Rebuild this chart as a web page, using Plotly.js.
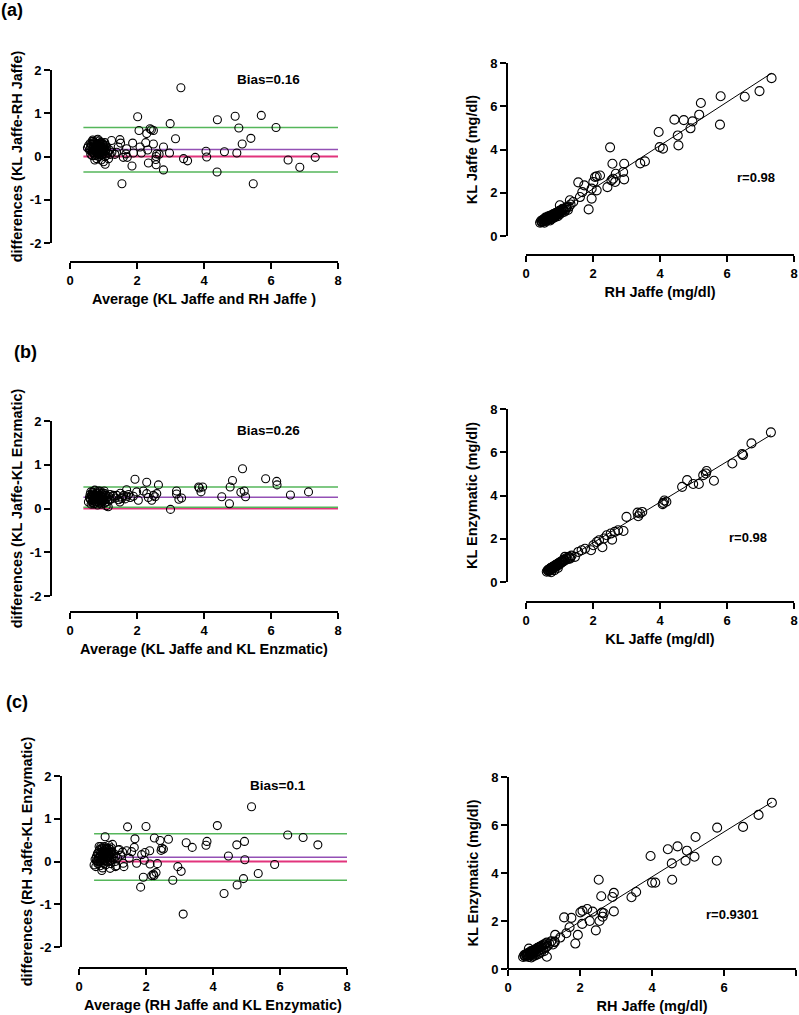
<!DOCTYPE html>
<html><head><meta charset="utf-8">
<script src="https://cdn.plot.ly/plotly-3.0.1.min.js"></script>
<style>html,body{margin:0;padding:0;background:#fff}</style>
</head><body><div id="chart" style="width:799px;height:1015px"></div>
<script>
// ---------- DATA ----------
// Panel (a) Bland-Altman: KL Jaffe vs RH Jaffe
const baA_avg = [0.52,0.55,0.58,0.60,0.62,0.63,0.65,0.66,0.68,0.70,0.70,0.72,0.73,0.75,0.75,0.77,0.78,0.79,0.80,0.81,0.82,0.83,0.84,0.85,0.86,0.87,0.88,0.89,0.90,0.91,0.92,0.93,0.94,0.95,0.96,0.97,0.98,0.99,1.00,1.01,1.02,1.03,1.04,1.05,1.06,1.08,1.10,1.12,1.15,1.18,1.20,1.25,0.68,0.74,0.88,
 3.31,2.02,4.93,4.40,5.71,2.99,2.06,2.39,2.43,2.49,2.29,5.04,6.15,3.15,5.40,5.14,1.24,1.49,1.51,1.87,2.26,2.49,2.79,2.09,2.32,4.06,4.61,4.98,2.97,1.89,2.13,1.69,1.67,1.59,1.71,2.59,2.66,2.57,2.56,3.39,3.51,4.08,7.32,6.51,6.86,2.34,2.57,2.79,1.85,4.39,1.55,5.47,1.39,1.34,1.44];
const baA_diff = [0.20,0.25,0.15,0.30,0.05,0.22,0.12,0.35,0.18,0.27,0.08,0.14,0.32,0.02,0.22,0.10,0.28,0.17,-0.05,0.25,0.05,0.40,0.15,0.20,0.30,0.00,0.12,0.24,0.08,0.18,0.33,-0.08,0.14,0.22,0.04,0.28,0.10,0.17,-0.12,0.25,0.06,0.19,0.32,-0.18,0.12,0.02,0.22,0.08,-0.05,0.15,0.05,0.10,0.38,-0.08,0.36,
 1.59,0.92,0.93,0.85,0.95,0.76,0.60,0.64,0.62,0.60,0.53,0.66,0.67,0.41,0.42,0.29,0.37,0.39,0.31,0.31,0.32,0.29,0.22,0.22,0.15,0.12,0.11,0.08,0.08,0.08,0.08,0.18,0.06,-0.02,-0.02,0.06,0.05,0.00,-0.07,-0.05,-0.10,-0.01,-0.02,-0.08,-0.25,-0.15,-0.19,-0.31,-0.22,-0.36,-0.63,-0.63,0.10,0.05,0.22];
const baA_avg_dense = [0.60,0.64,0.67,0.69,0.71,0.73,0.76,0.78,0.80,0.82,0.84,0.86,0.88,0.90,0.92,0.94,0.96,0.98,1.00,1.02,1.04,1.06,1.08,0.70,0.80,0.66,0.75,0.85,0.95,0.83];
const baA_diff_dense = [0.18,0.28,0.10,0.22,0.16,0.05,0.30,0.20,0.12,0.30,0.24,0.08,0.18,0.28,0.12,0.03,0.20,0.30,0.14,0.22,0.00,0.26,0.16,0.35,0.38,0.02,0.15,0.05,0.12,0.18];
const baA_limits = [0.67, 0.16, -0.36];   // upper LoA, bias, lower LoA
const baA_span = [0.4, 8];

// Panel (a) correlation: RH Jaffe (x) vs KL Jaffe (y)
const scA_x = [0.42,0.45,0.48,0.50,0.52,0.55,0.57,0.58,0.60,0.62,0.63,0.65,0.66,0.68,0.70,0.71,0.73,0.75,0.76,0.78,0.80,0.81,0.83,0.85,0.86,0.88,0.90,0.92,0.94,0.95,0.97,0.99,1.00,1.02,1.05,1.07,1.10,1.12,1.15,1.18,1.20,1.25,1.28,0.55,0.72,
 7.33,6.97,6.53,5.81,5.79,5.22,5.17,4.97,4.91,4.43,4.71,4.53,4.55,3.96,3.99,4.09,3.41,3.55,2.51,2.58,2.93,2.90,2.93,2.68,2.66,2.55,2.60,2.43,2.06,2.11,2.21,2.01,1.96,2.11,1.96,1.56,1.74,1.68,1.61,1.87,1.31,1.41,1.33,1.21,1.09,1.01];
const scA_y = [0.62,0.70,0.66,0.75,0.68,0.80,0.72,0.85,0.76,0.70,0.82,0.90,0.78,0.86,0.80,0.93,0.85,0.78,0.95,0.88,0.82,1.00,0.92,0.86,1.02,0.95,1.05,0.98,1.10,0.92,1.04,1.15,1.00,1.10,1.20,1.08,1.18,1.25,1.12,1.22,1.30,1.20,1.35,0.62,0.72,
 7.30,6.70,6.44,6.46,5.15,6.15,5.61,5.30,4.98,5.38,5.36,4.65,4.19,4.81,4.11,4.04,3.36,3.45,4.10,3.34,3.34,2.96,2.62,2.88,2.50,2.57,2.65,2.26,2.73,2.76,2.80,2.50,2.19,2.11,1.73,2.48,2.34,2.03,1.80,1.23,1.65,1.57,1.46,1.34,1.26,1.42];
const scA_x_dense = [0.47,0.51,0.54,0.56,0.59,0.61,0.64,0.67,0.69,0.72,0.74,0.77,0.79,0.82,0.84,0.87,0.89,0.93,0.96,1.01];
const scA_y_dense = [0.64,0.70,0.73,0.76,0.78,0.80,0.84,0.82,0.88,0.90,0.92,0.93,0.98,0.97,1.02,1.04,1.06,1.08,1.12,1.16];
const scA_fit = [1.004, 0.17];   // slope, intercept
const scA_r = "r=0.98";

// Panel (b) Bland-Altman: KL Jaffe vs KL Enzymatic
const baB_avg = [0.55,0.58,0.60,0.62,0.63,0.65,0.67,0.68,0.70,0.71,0.72,0.74,0.75,0.77,0.78,0.80,0.81,0.82,0.84,0.85,0.86,0.88,0.89,0.90,0.92,0.93,0.95,0.96,0.98,1.00,1.02,1.03,1.05,1.07,1.08,1.10,1.12,1.15,1.18,1.20,1.25,1.30,1.35,1.40,1.45,1.50,1.55,1.60,1.65,1.70,1.75,1.80,
 1.94,2.29,2.64,1.69,1.99,2.19,1.89,2.04,2.29,2.34,2.44,2.49,2.59,2.54,3.18,3.18,3.25,3.33,3.00,3.84,3.96,3.91,3.86,4.53,4.78,4.85,4.76,5.15,5.10,5.20,5.24,5.84,6.17,6.18,6.58,7.12,1.14,1.49,1.54,1.29];
const baB_diff = [0.15,0.25,0.32,0.20,0.10,0.28,0.38,0.18,0.24,0.33,0.12,0.42,0.22,0.30,0.16,0.26,0.36,0.08,0.20,0.30,0.14,0.24,0.40,0.18,0.28,0.10,0.22,0.34,0.16,0.26,0.40,0.12,0.20,0.30,0.06,0.24,0.16,0.28,0.20,0.32,0.22,0.28,0.24,0.30,0.20,0.35,0.26,0.30,0.22,0.28,0.32,0.25,
 0.67,0.60,0.54,0.43,0.38,0.40,0.28,0.19,0.34,0.25,0.19,0.30,0.34,0.27,0.40,0.33,0.21,0.24,-0.02,0.49,0.49,0.38,0.47,0.27,0.49,0.64,0.11,0.91,0.37,0.40,0.27,0.68,0.62,0.54,0.31,0.38,0.04,0.15,0.23,0.30];
const baB_avg_dense = [0.60,0.64,0.66,0.69,0.71,0.73,0.76,0.78,0.80,0.83,0.85,0.87,0.89,0.91,0.94,0.96,0.98,1.00,1.02,1.05,0.62,0.70,0.74,0.79,0.84,0.88,0.92,0.97,1.04,0.67];
const baB_diff_dense = [0.22,0.30,0.14,0.36,0.20,0.28,0.12,0.34,0.20,0.28,0.16,0.36,0.22,0.30,0.14,0.26,0.36,0.20,0.28,0.14,0.38,0.10,0.22,0.26,0.40,0.12,0.24,0.18,0.34,0.26];
const baB_limits = [0.49, 0.26, 0.03];
const baB_span = [0.4, 8];

// Panel (b) correlation: KL Jaffe (x) vs KL Enzymatic (y)
const scB_x = [0.62,0.65,0.68,0.70,0.72,0.74,0.76,0.78,0.80,0.82,0.84,0.86,0.88,0.90,0.92,0.94,0.96,0.98,1.00,1.02,1.05,1.08,1.10,1.13,1.16,1.20,1.24,1.28,1.32,1.36,0.75,0.85,0.95,
 7.31,6.73,6.45,6.48,6.16,5.61,5.39,5.37,5.29,5.16,4.99,4.81,4.66,4.19,4.10,4.08,4.13,3.40,3.33,3.35,3.47,3.00,2.91,2.75,2.65,2.57,2.28,2.41,2.53,2.33,2.18,2.11,1.94,2.01,1.76,1.66,1.56,1.46,1.31,1.16];
const scB_y = [0.48,0.55,0.50,0.60,0.54,0.65,0.58,0.68,0.62,0.72,0.66,0.76,0.70,0.80,0.74,0.84,0.78,0.88,0.82,0.92,0.88,0.98,0.94,1.04,1.00,1.10,1.06,1.16,1.12,1.22,0.45,0.55,0.65,
 6.92,6.41,5.92,5.87,5.48,4.68,5.13,5.02,4.94,4.53,4.53,4.71,4.40,3.71,3.66,3.60,3.77,3.17,3.21,3.04,3.24,3.01,2.36,2.39,2.32,1.96,1.61,2.16,2.24,2.01,1.93,1.85,1.47,1.70,1.54,1.47,1.39,1.16,1.08,1.16];
const scB_x_dense = [0.66,0.69,0.71,0.73,0.75,0.77,0.79,0.81,0.83,0.85,0.87,0.89,0.91,0.93,0.97,0.99,1.03,1.07,1.11,1.15];
const scB_y_dense = [0.52,0.58,0.56,0.62,0.64,0.66,0.65,0.70,0.69,0.74,0.73,0.78,0.77,0.80,0.84,0.86,0.90,0.94,0.98,1.04];
const scB_fit = [0.94, -0.07];
const scB_r = "r=0.98";

// Panel (c) Bland-Altman: RH Jaffe vs KL Enzymatic
const baC_avg = [0.45,0.48,0.50,0.52,0.55,0.57,0.58,0.60,0.62,0.63,0.65,0.66,0.68,0.70,0.71,0.72,0.74,0.75,0.76,0.78,0.79,0.80,0.82,0.83,0.85,0.86,0.88,0.89,0.90,0.92,0.93,0.95,0.96,0.98,1.00,1.02,1.05,1.08,1.10,1.12,1.15,1.20,1.25,1.30,0.60,0.70,
 5.15,1.45,2.00,4.13,6.23,6.69,7.13,0.78,1.67,2.25,2.67,2.42,3.20,3.38,3.82,3.79,4.71,4.94,2.47,2.45,2.52,2.11,1.97,1.87,1.65,1.57,1.42,1.17,4.46,4.95,1.95,1.72,2.12,2.34,2.95,3.05,5.84,5.35,2.30,2.22,2.17,2.24,1.92,2.80,4.91,1.84,4.72,4.33,3.11,1.34,1.09,0.93,0.68,1.32,1.50];
const baC_diff = [-0.08,0.05,-0.12,0.12,0.00,0.20,-0.05,0.10,0.28,-0.10,0.15,0.05,0.32,0.20,-0.02,0.10,0.25,0.02,0.35,0.15,-0.08,0.22,0.08,0.30,0.12,0.00,0.20,0.38,0.05,0.15,0.28,-0.05,0.10,0.22,0.40,0.05,0.18,0.00,0.12,-0.10,0.08,0.28,0.15,0.22,0.35,-0.15,
 1.28,0.81,0.82,0.84,0.62,0.56,0.39,0.58,0.53,0.55,0.52,0.49,0.44,0.33,0.47,0.38,0.39,0.47,0.31,0.26,0.29,0.25,0.21,0.16,0.33,0.23,0.25,0.27,0.13,0.04,0.03,-0.04,-0.06,-0.05,-0.12,-0.23,-0.07,-0.28,-0.26,-0.30,-0.33,-0.33,-0.37,-0.44,-0.40,-0.60,-0.55,-0.75,-1.23,-0.12,-0.12,-0.16,-0.21,-0.04,0.08];
const baC_avg_dense = [0.52,0.55,0.58,0.60,0.62,0.64,0.66,0.68,0.70,0.72,0.74,0.76,0.78,0.80,0.82,0.84,0.86,0.88,0.90,0.92,0.94,0.96,0.98,0.65,0.75,0.85,0.70,0.80,0.90,0.56];
const baC_diff_dense = [0.02,0.18,0.08,0.25,0.12,0.00,0.22,0.10,0.30,0.05,0.18,0.12,0.28,0.04,0.20,0.30,0.10,0.25,0.15,0.00,0.20,0.32,0.08,0.35,-0.05,0.22,0.15,0.32,0.30,-0.05];
const baC_limits = [0.65, 0.10, -0.44];
const baC_span = [0.45, 8];

// Panel (c) correlation: RH Jaffe (x) vs KL Enzymatic (y)
const scC_x = [0.42,0.45,0.48,0.50,0.52,0.55,0.57,0.60,0.62,0.64,0.66,0.68,0.70,0.72,0.74,0.76,0.78,0.80,0.82,0.84,0.86,0.88,0.90,0.92,0.95,0.97,1.00,1.02,1.05,1.08,1.10,1.15,1.20,1.25,1.30,0.58,0.65,
 7.33,6.96,6.53,5.81,5.80,5.21,5.18,4.97,4.93,4.71,4.44,4.55,4.56,3.96,4.00,4.09,3.56,3.43,2.52,2.59,2.94,2.90,2.94,2.66,2.63,2.61,2.54,2.44,2.35,2.20,2.01,2.07,2.27,2.06,1.94,1.87,1.56,1.76,1.71,1.62,1.45,1.31,1.29,1.08];
const scC_y = [0.50,0.58,0.52,0.62,0.55,0.66,0.50,0.70,0.58,0.75,0.62,0.52,0.78,0.66,0.56,0.82,0.70,0.60,0.88,0.74,0.64,0.92,0.80,0.70,0.96,0.84,0.74,1.02,0.90,1.10,0.96,1.05,1.15,1.02,1.12,0.85,0.48,
 6.93,6.42,5.92,5.89,4.51,5.50,4.68,4.93,4.51,5.11,4.99,4.40,3.72,4.71,3.60,3.60,3.21,2.99,3.72,3.03,3.17,3.00,2.40,2.32,2.18,2.35,2.00,1.61,2.39,2.50,2.36,2.42,2.00,1.88,1.42,1.06,2.15,2.13,1.74,1.49,1.31,1.42,1.14,0.51];
const scC_x_dense = [0.47,0.51,0.54,0.56,0.59,0.61,0.63,0.67,0.69,0.71,0.73,0.77,0.79,0.83,0.85,0.87,0.91,0.94,0.99,1.04];
const scC_y_dense = [0.54,0.58,0.60,0.62,0.64,0.66,0.68,0.70,0.72,0.74,0.76,0.80,0.82,0.86,0.88,0.90,0.94,0.98,1.02,1.06];
const scC_fit = [0.935, 0.10];
const scC_r = "r=0.9301";

const biasLabels = ["Bias=0.16", "Bias=0.26", "Bias=0.1"];
const panelLabels = ["(a)", "(b)", "(c)"];
const baYTitles = ["differences (KL Jaffe-RH Jaffe)", "differences (KL Jaffe-KL Enzmatic)", "differences (RH Jaffe-KL Enzymatic)"];
const baXTitles = ["Average (KL Jaffe and RH Jaffe )", "Average (KL Jaffe and KL Enzmatic)", "Average (RH Jaffe and KL Enzymatic)"];
const scYTitles = ["KL Jaffe (mg/dl)", "KL Enzymatic (mg/dl)", "KL Enzymatic (mg/dl)"];
const scXTitles = ["RH Jaffe (mg/dl)", "KL Jaffe (mg/dl)", "RH Jaffe (mg/dl)"];
const baTickVals = [-2,-1,0,1,2];
const baTickText = ["-2","-1","0","1","2"];
const scTickVals = [0,2,4,6,8];

// ---------- LAYOUT GEOMETRY (pixels) ----------
const W = 799, H = 1015;
const px = v => v / W, py = v => 1 - v / H;
const FONT = "Liberation Sans, Arial, sans-serif";
const geo = [
  {xd:[70,338], yd:[70,243], yPos:51, xPos:262, ba:true},
  {xd:[70,338], yd:[421,596], yPos:51, xPos:612, ba:true},
  {xd:[79,347], yd:[776,947], yPos:61, xPos:968, ba:true},
  {xd:[526,794], yd:[63,236], yPos:507, xPos:255, ba:false},
  {xd:[526,794], yd:[409,582], yPos:507, xPos:602, ba:false},
  {xd:[508,796], yd:[777,969], yPos:508, xPos:969, ba:false}
];
const xTitles = baXTitles.concat(scXTitles);
const yTitles = baYTitles.concat(scYTitles);

const layout = {
  width: W, height: H, margin: {l:0, r:0, t:0, b:0},
  paper_bgcolor: "#fff", plot_bgcolor: "rgba(0,0,0,0)",
  showlegend: false,
  font: {family: FONT, color: "#000"},
  annotations: []
};
const titleFont = {family:FONT, size:14.5, weight:"bold", color:"#000"};
geo.forEach((g, i) => {
  const n = i + 1;
  const xk = "xaxis" + (n === 1 ? "" : n), yk = "yaxis" + (n === 1 ? "" : n);
  const common = {showgrid:false, zeroline:false, showline:true, linecolor:"#000", linewidth:2,
    ticks:"outside", ticklen:6, tickwidth:2, tickcolor:"#000",
    tickfont:{family:FONT, size:13, weight:"bold", color:"#000"}, automargin:false, fixedrange:true};
  layout[xk] = Object.assign({}, common, {
    domain:[px(g.xd[0]), px(g.xd[1])], anchor:"free", position: py(g.xPos),
    range:[0,8], tickmode:"array", tickvals:scTickVals,
    title:{text: xTitles[i], font:titleFont, standoff: 6}
  });
  layout[yk] = Object.assign({}, common, {
    domain:[py(g.yd[1]), py(g.yd[0])], anchor:"free", position: px(g.yPos),
    range: g.ba ? [-2,2] : [0,8], tickmode:"array",
    tickvals: g.ba ? baTickVals : scTickVals,
    ticktext: g.ba ? baTickText : scTickVals.map(String),
    title:{text: yTitles[i], font:titleFont, standoff: g.ba ? 3 : 8}
  });
});

const traces = [];
const marker = {symbol:"circle-open", size:8, color:"#000", line:{width:1.1, color:"#000"}};
const lineColors = ["#55b65a", "#9350b5", "#55b65a"];

// Bland-Altman panels
[[baA_avg.concat(baA_avg_dense), baA_diff.concat(baA_diff_dense), baA_limits, baA_span],
 [baB_avg.concat(baB_avg_dense), baB_diff.concat(baB_diff_dense), baB_limits, baB_span],
 [baC_avg.concat(baC_avg_dense), baC_diff.concat(baC_diff_dense), baC_limits, baC_span]].forEach((p, i) => {
  const n = i + 1, xa = "x" + (n === 1 ? "" : n), ya = "y" + (n === 1 ? "" : n);
  traces.push({type:"scatter", mode:"lines", x:p[3], y:[0,0], xaxis:xa, yaxis:ya,
    line:{color:"#e2347c", width:2.2}, hoverinfo:"skip"});
  p[2].forEach((v, k) => {
    traces.push({type:"scatter", mode:"lines", x:p[3], y:[v,v], xaxis:xa, yaxis:ya,
      line:{color:lineColors[k], width:1.5}, hoverinfo:"skip"});
  });
  traces.push({type:"scatter", mode:"markers", x:p[0], y:p[1], xaxis:xa, yaxis:ya, marker:marker});
  layout.annotations.push({text: biasLabels[i], xref:xa, yref:ya, x:5.94, y:1.78, showarrow:false,
    font:{family:FONT, size:13.5, weight:"bold", color:"#000"}});
});

// Correlation panels
const rPos = [[6.88,2.72],[6.63,2.08],[6.23,2.29]];
[[scA_x.concat(scA_x_dense), scA_y.concat(scA_y_dense), scA_fit, scA_r],
 [scB_x.concat(scB_x_dense), scB_y.concat(scB_y_dense), scB_fit, scB_r],
 [scC_x.concat(scC_x_dense), scC_y.concat(scC_y_dense), scC_fit, scC_r]].forEach((p, i) => {
  const n = i + 4, xa = "x" + n, ya = "y" + n;
  const xmin = Math.min(...p[0]), xmax = Math.max(...p[0]);
  traces.push({type:"scatter", mode:"markers", x:p[0], y:p[1], xaxis:xa, yaxis:ya, marker:Object.assign({}, marker, {size:9})});
  traces.push({type:"scatter", mode:"lines", x:[xmin, xmax], y:[p[2][0]*xmin+p[2][1], p[2][0]*xmax+p[2][1]],
    xaxis:xa, yaxis:ya, line:{color:"#000", width:1}, hoverinfo:"skip"});
  layout.annotations.push({text: p[3], xref:xa, yref:ya, x:rPos[i][0], y:rPos[i][1], showarrow:false,
    font:{family:FONT, size:13, weight:"bold", color:"#000"}});
});

// Panel labels
const labelPos = [[12,10],[25,352],[17,702]];
panelLabels.forEach((t, i) => {
  layout.annotations.push({text:t, xref:"paper", yref:"paper", x:px(labelPos[i][0]), y:py(labelPos[i][1]),
    xanchor:"center", yanchor:"middle", showarrow:false, font:{family:FONT, size:18, weight:"bold", color:"#000"}});
});

Plotly.newPlot("chart", traces, layout, {staticPlot:true, displayModeBar:false});
</script></body></html>
